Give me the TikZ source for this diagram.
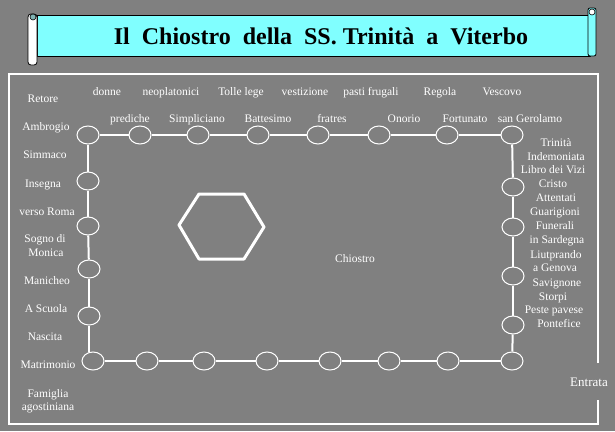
\documentclass[tikz,border=0pt]{standalone}
\usepackage{fontspec}
\setmainfont{Liberation Serif}
\usetikzlibrary{shapes.geometric}
\definecolor{sfondo}{RGB}{128,128,128}
\definecolor{ciano}{RGB}{128,255,255}
\tikzset{
  lbl/.style={text=white, inner sep=0pt, anchor=base, font=\fontsize{11.5}{13}\selectfont},
  arco/.style={ellipse, draw=white, line width=1pt, fill=sfondo, minimum width=22pt, minimum height=18pt, inner sep=0pt},
  muro/.style={white, line width=2pt},
}
\begin{document}
\begin{tikzpicture}[x=1pt, y=-1pt]
            \useasboundingbox (0,0) rectangle (615,431);
            \fill[sfondo] (0,0) rectangle (615,431);
            % cartiglio
            \draw[fill=ciano, line width=0.8pt] (37,15) rectangle (590,56);
            \draw[fill=ciano, line width=0.8pt, rounded corners=2pt] (588,8) rectangle (596,56);
            \draw[fill=white, line width=0.6pt] (592,12) circle (3);
            \draw[fill=white, line width=0.8pt, rounded corners=3pt] (28,14) rectangle (37,65);
            \draw[fill=ciano!40!sfondo, line width=0.6pt] (33,17) circle (3);
            \node[anchor=base, inner sep=0pt, font=\fontsize{24}{28}\selectfont\bfseries] (titolo) at (321,44)
                {Il\ \ Chiostro\ \ della\ \ SS.\ Trinità\ \ a\ \ Viterbo};
            % recinto
            \draw[white, line width=2.5pt] (598,363) -- (598,74) -- (9,74) -- (9,424) -- (598,424) -- (598,400);
            \node[lbl, font=\fontsize{13}{15}\selectfont] (entrata) at (589,386) {Entrata};
            % pozzo
            \draw[white, line width=3pt, line join=round] (179,225) -- (199,194) -- (244,194) -- (264,227)
                -- (244,259) -- (199,259) -- cycle;
            \node[lbl] (chiostro) at (355,262) {Chiostro};
            % archi
            \foreach \x/\y [count=\i] in {88/135,140/135,198/135,258/135,318/135,379/135,447/135,512/135,
                513/187,513/227,513/276,513/325,
                512/361,448/361,389/361,330/361,267/361,204/361,147/361,93/361,
                89/316,89/269,88/226,88/181} {
                \node[arco] (p\i) at (\x,\y) {};
            }
            \foreach \i [remember=\i as \j (initially 24)] in {1,...,24} {
                \ifnum\i=21 \else \draw[muro] (p\j) -- (p\i); \fi
            }
            \draw[muro] (p21) -- (p21 |- p20.north);
            % lato nord
            \foreach \x/\y/\t [count=\i] in {107/95/donne,171/95/neoplatonici,241/95/Tolle lege,305/95/vestizione,
                371/95/pasti frugali,440/95/Regola,502/95/Vescovo,
                130/122/prediche,197/122/Simpliciano,268/122/Battesimo,332/122/fratres,
                404/122/Onorio,465/122/Fortunato,530/122/san Gerolamo} {
                \node[lbl] (nord\i) at (\x,\y) {\t};
            }
            % lato ovest
            \foreach \x/\y/\t [count=\i] in {43/102/Retore,46/130/Ambrogio,45/158/Simmaco,43/187/Insegna,
                47/215/verso Roma,45/242/Sogno di,46/256/Monica,47/284/Manicheo,46/312/A Scuola,
                45/340/Nascita,48/368/Matrimonio,48/397/Famiglia,48/410/agostiniana} {
                \node[lbl] (ovest\i) at (\x,\y) {\t};
            }
            % lato est
            \foreach \x/\y/\t [count=\i] in {556/146/Trinità,556/160/Indemoniata,553/173/Libro dei Vizi,
                553/187/Cristo,556/201/Attentati,555/215/Guarigioni,555/229/Funerali,557/243/in Sardegna,
                556/258/Liutprando,555/271/a Genova,557/286/Savignone,553/300/Storpi,
                554/313/Peste pavese,559/327/Pontefice} {
                \node[lbl] (est\i) at (\x,\y) {\t};
            }
\end{tikzpicture}
\end{document}
